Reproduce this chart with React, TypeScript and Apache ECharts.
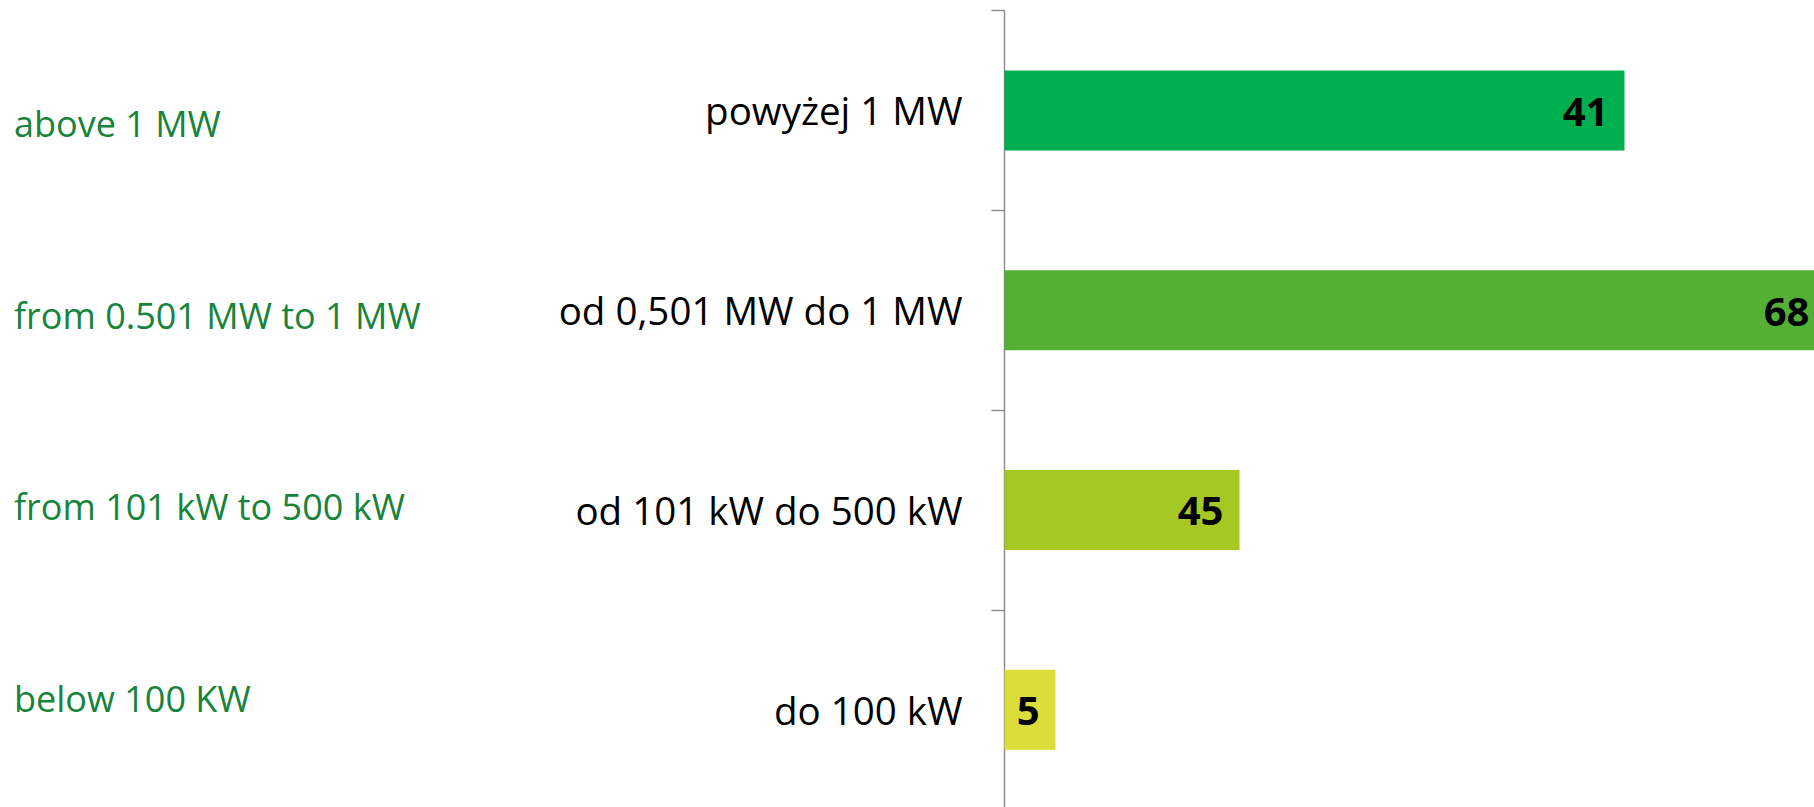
import React, { useEffect, useRef } from "react";
import * as echarts from "echarts";

// Polish category labels (top to bottom)
const categories = ["powyżej 1 MW", "od 0,501 MW do 1 MW", "od 101 kW do 500 kW", "do 100 kW"];
// English translations shown on the left
const englishLabels = ["above 1 MW", "from 0.501 MW to 1 MW", "from 101 kW to 500 kW", "below 100 KW"];
// Bar lengths (axis units, 0–100)
const barValues = [62.0, 82.1, 23.5, 5.1];
// Numbers printed on the bars
const barLabels = [41, 68, 45, 5];
const barColors = ["#00B050", "#53B034", "#A6C823", "#DBDD3A"];

export default function App() {
  const ref = useRef<HTMLDivElement>(null);

  useEffect(() => {
    if (!ref.current) return;
    const chart = echarts.init(ref.current, null, { renderer: "svg" });
    const option = {
      animation: false,
      backgroundColor: "#ffffff",
      grid: { left: 1004.5, right: 5.5, top: 10.5, bottom: 2.5, containLabel: false },
      xAxis: {
        type: "value",
        min: 0,
        max: 100,
        show: false,
      },
      yAxis: {
        type: "category",
        inverse: true,
        data: categories,
        axisLine: { show: true, lineStyle: { color: "#8a8a8a", width: 1.4 } },
        axisTick: { show: true, length: 13, inside: false, lineStyle: { color: "#8a8a8a", width: 1.4 } },
        axisLabel: {
          margin: 42,
          color: "#000000",
          fontFamily: "Open Sans",
          fontSize: 38.5,
        },
        splitLine: { show: false },
      },
      series: [
        {
          type: "bar",
          barWidth: 80,
          data: barValues.map((v, i) => ({
            value: v,
            itemStyle: { color: barColors[i] },
            label: { formatter: String(barLabels[i]) },
          })),
          label: {
            show: true,
            position: "insideRight",
            distance: 16,
            color: "#000000",
            fontFamily: "Open Sans",
            fontWeight: "bold",
            fontSize: 40,
          },
          clip: false,
        },
      ],
      graphic: englishLabels.map((t, i) => ({
        type: "text",
        x: 14,
        y: 123.5 + i * 191.5,
        style: {
          text: t,
          fill: "#17843B",
          font: "36px 'Open Sans'",
          textVerticalAlign: "middle",
          verticalAlign: "middle",
        },
      })),
    };
    chart.setOption(option as any);
    return () => chart.dispose();
  }, []);

  return (
    <div style={{ position: "fixed", left: 0, top: 0, width: 1814, height: 807, overflow: "hidden", background: "#fff" }}>
      <div ref={ref} style={{ width: 2010, height: 812 }} />
    </div>
  );
}
